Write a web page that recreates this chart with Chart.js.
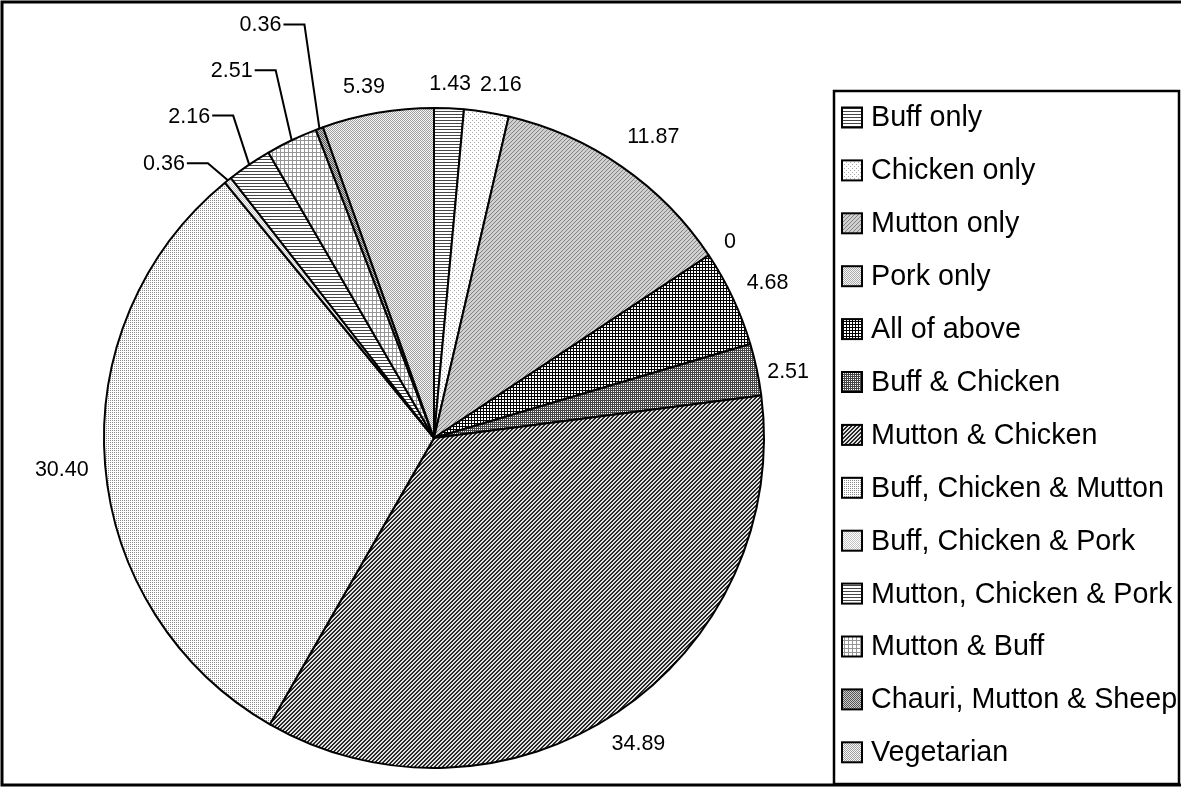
<!DOCTYPE html>
<html>
<head>
<meta charset="utf-8">
<script src="https://cdn.jsdelivr.net/npm/chart.js@4.4.1/dist/chart.umd.min.js"></script>
<style>
  html, body { margin: 0; padding: 0; background: #fff; }
  canvas { display: block; }
</style>
</head>
<body>
<canvas id="pie" width="1181" height="788"></canvas>
<script>
// Meat consumption categories and their shares (%)
const categories = [
  'Buff only', 'Chicken only', 'Mutton only', 'Pork only', 'All of above',
  'Buff & Chicken', 'Mutton & Chicken', 'Buff, Chicken & Mutton',
  'Buff, Chicken & Pork', 'Mutton, Chicken & Pork', 'Mutton & Buff',
  'Chauri, Mutton & Sheep', 'Vegetarian'
];
const shares = [1.43, 2.16, 11.87, 0, 4.68, 2.51, 34.89, 30.40, 0.36, 2.16, 2.51, 0.36, 5.39];

// Thin slices get their label pulled out on a leader line (elbow offset from the rim)
const leaderElbows = { 8: [-20, -17], 9: [-16, -49], 10: [-16, -70], 11: [-15, -104] };
// Small shifts that keep neighbouring value labels apart
const labelNudge = { 1: [10, -1], 2: [10, 0], 5: [-6, 9], 12: [-9, 0] };

const FONT = '"Liberation Sans", Arial, sans-serif';
const canvas = document.getElementById('pie');
const ctx = canvas.getContext('2d');

// Monochrome fill patterns built pixel by pixel
function tile(size, shade) {
  const c = document.createElement('canvas');
  c.width = c.height = size;
  const g = c.getContext('2d');
  const img = g.createImageData(size, size);
  for (let y = 0; y < size; y++) {
    for (let x = 0; x < size; x++) {
      const v = shade(x, y);
      const k = (y * size + x) * 4;
      img.data[k] = img.data[k + 1] = img.data[k + 2] = v;
      img.data[k + 3] = 255;
    }
  }
  g.putImageData(img, 0, 0);
  return ctx.createPattern(c, 'repeat');
}

const fills = [
  tile(6, (x, y) => (y % 3 === 0 ? 70 : 255)),                              // horizontal lines
  tile(4, (x, y) => ((x % 4 === 0 && y % 4 === 0) || (x % 4 === 2 && y % 4 === 2) ? 170 : 255)),
  tile(4, (x, y) => ((x + y) % 4 === 0 ? 130 : 208)),                       // light diagonal
  tile(2, (x, y) => ((x + y) % 2 === 0 ? 170 : 245)),
  tile(3, (x, y) => (x % 3 === 0 || y % 3 === 0 ? 0 : 255)),                // small grid
  tile(2, (x, y) => (x % 2 === 0 || y % 2 === 0 ? 70 : 255)),               // dense grid
  tile(4, (x, y) => ((x + y) % 4 < 2 ? 40 : 225)),                          // dark diagonal
  tile(2, (x, y) => (x % 2 === 0 && y % 2 === 0 ? 140 : 255)),
  tile(2, (x, y) => ((x + y) % 2 === 0 ? 195 : 255)),
  tile(6, (x, y) => (y % 3 === 0 ? 70 : 255)),
  tile(4, (x, y) => (x % 4 === 0 || y % 4 === 0 ? 150 : 255)),              // light grid
  tile(2, (x, y) => ((x + y) % 2 === 0 ? 85 : 205)),
  tile(2, (x, y) => ((x + y) % 2 === 0 ? 160 : 245))
];

const fmt = v => (v === 0 ? '0' : v.toFixed(2));

// Outer frame, value labels and the boxed legend
const decorations = {
  id: 'decorations',
  beforeDraw(chart) {
    const c = chart.ctx;
    c.save();
    c.fillStyle = '#fff';
    c.fillRect(0, 0, chart.width, chart.height);
    c.restore();
  },
  afterDatasetsDraw(chart) {
    const c = chart.ctx;
    const meta = chart.getDatasetMeta(0);
    c.save();
    c.font = '21.5px ' + FONT;
    c.fillStyle = '#000';
    c.strokeStyle = '#000';
    c.lineWidth = 2;
    c.textBaseline = 'middle';
    meta.data.forEach((arc, i) => {
      const p = arc.getProps(['x', 'y', 'startAngle', 'endAngle', 'outerRadius'], true);
      const mid = (p.startAngle + p.endAngle) / 2;
      const ux = Math.cos(mid), uy = Math.sin(mid);
      const text = fmt(shares[i]);
      const w = c.measureText(text).width;
      const h = 16;
      const elbow = leaderElbows[i];
      if (elbow) {
        const ax = p.x + ux * p.outerRadius, ay = p.y + uy * p.outerRadius;
        const ex = ax + elbow[0], ey = ay + elbow[1];
        c.beginPath();
        c.moveTo(ax, ay);
        c.lineTo(ex, ey);
        c.lineTo(ex - 21, ey);
        c.stroke();
        c.textAlign = 'right';
        c.fillText(text, ex - 23, ey + 1);
      } else {
        const d = p.outerRadius + 16 + Math.abs(ux) * w / 2 + Math.abs(uy) * h / 2;
        const n = labelNudge[i] || [0, 0];
        c.textAlign = 'center';
        c.fillText(text, p.x + ux * d + n[0], p.y + uy * d + 1 + n[1]);
      }
    });
    c.restore();
  },
  afterDraw(chart) {
    const c = chart.ctx;
    c.save();
    c.strokeStyle = '#000';
    c.lineWidth = 3;
    c.strokeRect(2, 2, chart.width + 10, 783);
    // legend box
    c.lineWidth = 2.5;
    c.strokeRect(834, 91, 345, 693);
    c.font = '28.7px ' + FONT;
    c.textBaseline = 'middle';
    c.textAlign = 'left';
    categories.forEach((name, i) => {
      const cy = 117.5 + i * 52.9;
      c.fillStyle = fills[i];
      c.fillRect(842, cy - 10, 20, 20);
      c.lineWidth = 2;
      c.strokeStyle = '#000';
      c.strokeRect(842, cy - 10, 20, 20);
      c.fillStyle = '#000';
      c.fillText(name, 871, cy + 1);
    });
    c.restore();
  }
};

new Chart(canvas, {
  type: 'pie',
  data: {
    labels: categories,
    datasets: [{
      data: shares,
      backgroundColor: fills,
      borderColor: '#000',
      borderWidth: 2
    }]
  },
  options: {
    responsive: false,
    animation: false,
    events: [],
    layout: { padding: { left: 103, top: 107, right: 416, bottom: 19 } },
    plugins: {
      legend: { display: false },
      tooltip: { enabled: false }
    }
  },
  plugins: [decorations]
});
</script>
</body>
</html>
